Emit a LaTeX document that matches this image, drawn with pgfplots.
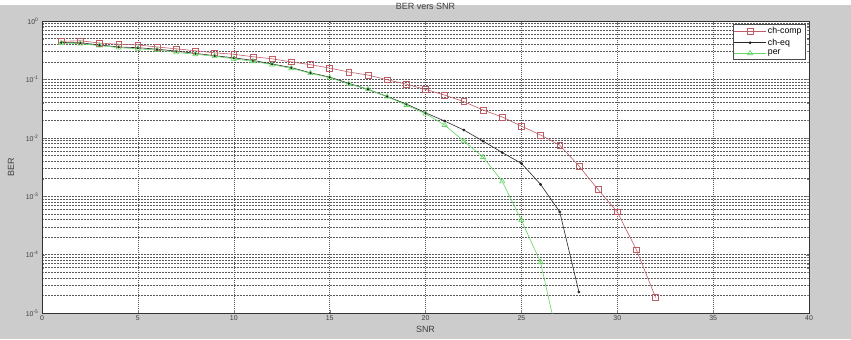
\documentclass[border=0pt]{standalone}
\usepackage{pgfplots}
\pgfplotsset{compat=1.18}
\usepackage{fontspec}
\setmainfont{Liberation Sans}
\definecolor{figgray}{RGB}{204,204,204}
\definecolor{compred}{RGB}{192,92,102}
\definecolor{pergreen}{RGB}{100,215,100}
\pgfplotstableread{
snr ber
1 0.45
2 0.46
3 0.42
4 0.40
5 0.39
6 0.36
7 0.335
8 0.31
9 0.286
10 0.27
11 0.245
12 0.226
13 0.20
14 0.179
15 0.157
16 0.134
17 0.119
18 0.099
19 0.083
20 0.0676
21 0.054
22 0.0417
23 0.030
24 0.0228
25 0.0159
26 0.0112
27 0.0075
28 0.0033
29 0.0013
30 0.00054
31 0.000121
32 0.0000185
}\comp
\pgfplotstableread{
snr ber
1 0.43
2 0.425
3 0.39
4 0.36
5 0.35
6 0.33
7 0.306
8 0.28
9 0.255
10 0.235
11 0.212
12 0.184
13 0.16
14 0.13
15 0.11
16 0.0857
17 0.0676
18 0.051
19 0.038
20 0.0269
21 0.0194
22 0.0136
23 0.0088
24 0.0056
25 0.00366
26 0.0016
27 0.00054
28 0.000023
}\eq
\pgfplotstableread{
snr ber
1 0.42
2 0.41
3 0.38
4 0.35
5 0.335
6 0.32
7 0.29
8 0.27
9 0.25
10 0.225
11 0.205
12 0.18
13 0.155
14 0.128
15 0.107
16 0.084
17 0.068
18 0.0506
19 0.0365
20 0.026
21 0.0166
22 0.0088
23 0.0047
24 0.0018
25 0.00039
26 0.000074
27 0.0000026
}\per
\begin{document}
\begin{tikzpicture}[x=1bp,y=1bp]
\fill[figgray] (0,0) rectangle (851,334);
\begin{axis}[
  at={(42bp,26bp)}, anchor=south west,
  scale only axis, width=767bp, height=292bp,
  xmin=0, xmax=40, ymode=log, ymin=1e-5, ymax=1,
  xtick={0,5,...,40},
  ytick={1e-5,1e-4,1e-3,1e-2,1e-1,1},
  yticklabels={10\textsuperscript{-5},10\textsuperscript{-4},10\textsuperscript{-3},10\textsuperscript{-2},10\textsuperscript{-1},10\textsuperscript{0}},
  /pgf/number format/assume math mode=true,
  tick label style={font=\fontsize{7}{8}\selectfont, text=black!75},
  xticklabel style={yshift=1bp},
  tick align=inside, major tick length=3bp, minor tick length=2bp,
  xmajorgrids, ymajorgrids, yminorgrids,
  x grid style={black!65, line width=0.5bp, dash pattern=on 1bp off 1bp},
  y grid style={black!65, line width=0.5bp, dash pattern=on 2bp off 1bp},
  minor y grid style={black!65, line width=0.5bp, dash pattern=on 2bp off 1bp},
  axis line style={black!80, line width=0.6bp},
  axis background/.style={fill=white},
  title={BER vers SNR},
  title style={font=\fontsize{9}{10}\selectfont, text=black!75, at={(axis description cs:0.5,1)}, anchor=base, yshift=5.5bp},
  xlabel={SNR}, ylabel={BER},
  label style={font=\fontsize{9}{10}\selectfont, text=black!75},
  xlabel style={at={(axis description cs:0.5,0)}, anchor=center, yshift=-16bp},
  ylabel style={at={(axis description cs:-0.0404,0.5)}, anchor=center},
  legend style={at={(rel axis cs:0.9948,0.9897)}, anchor=north east,
    font=\fontsize{8.8}{10}\selectfont, draw=black!70, line width=0.5bp, fill=white,
    row sep=-0.5bp, inner sep=1.2bp, cells={anchor=west}},
  legend image code/.code={\draw[mark repeat=2,mark phase=2] plot coordinates {(0cm,0cm) (0.55cm,0cm) (1.1cm,0cm)};},
  clip mode=global,
]
\addplot[compred, line width=0.6bp, mark=square, mark size=2.9bp, mark options={solid, fill=none}] table {\comp};
\addlegendentry{ch-comp}
\addplot[black!85, line width=0.6bp, mark=*, mark size=1.1bp] table {\eq};
\addlegendentry{ch-eq}
\addplot[pergreen, line width=0.6bp, mark=triangle, mark size=2.9bp] table {\per};
\addlegendentry{per}
\end{axis}
\end{tikzpicture}
\end{document}
